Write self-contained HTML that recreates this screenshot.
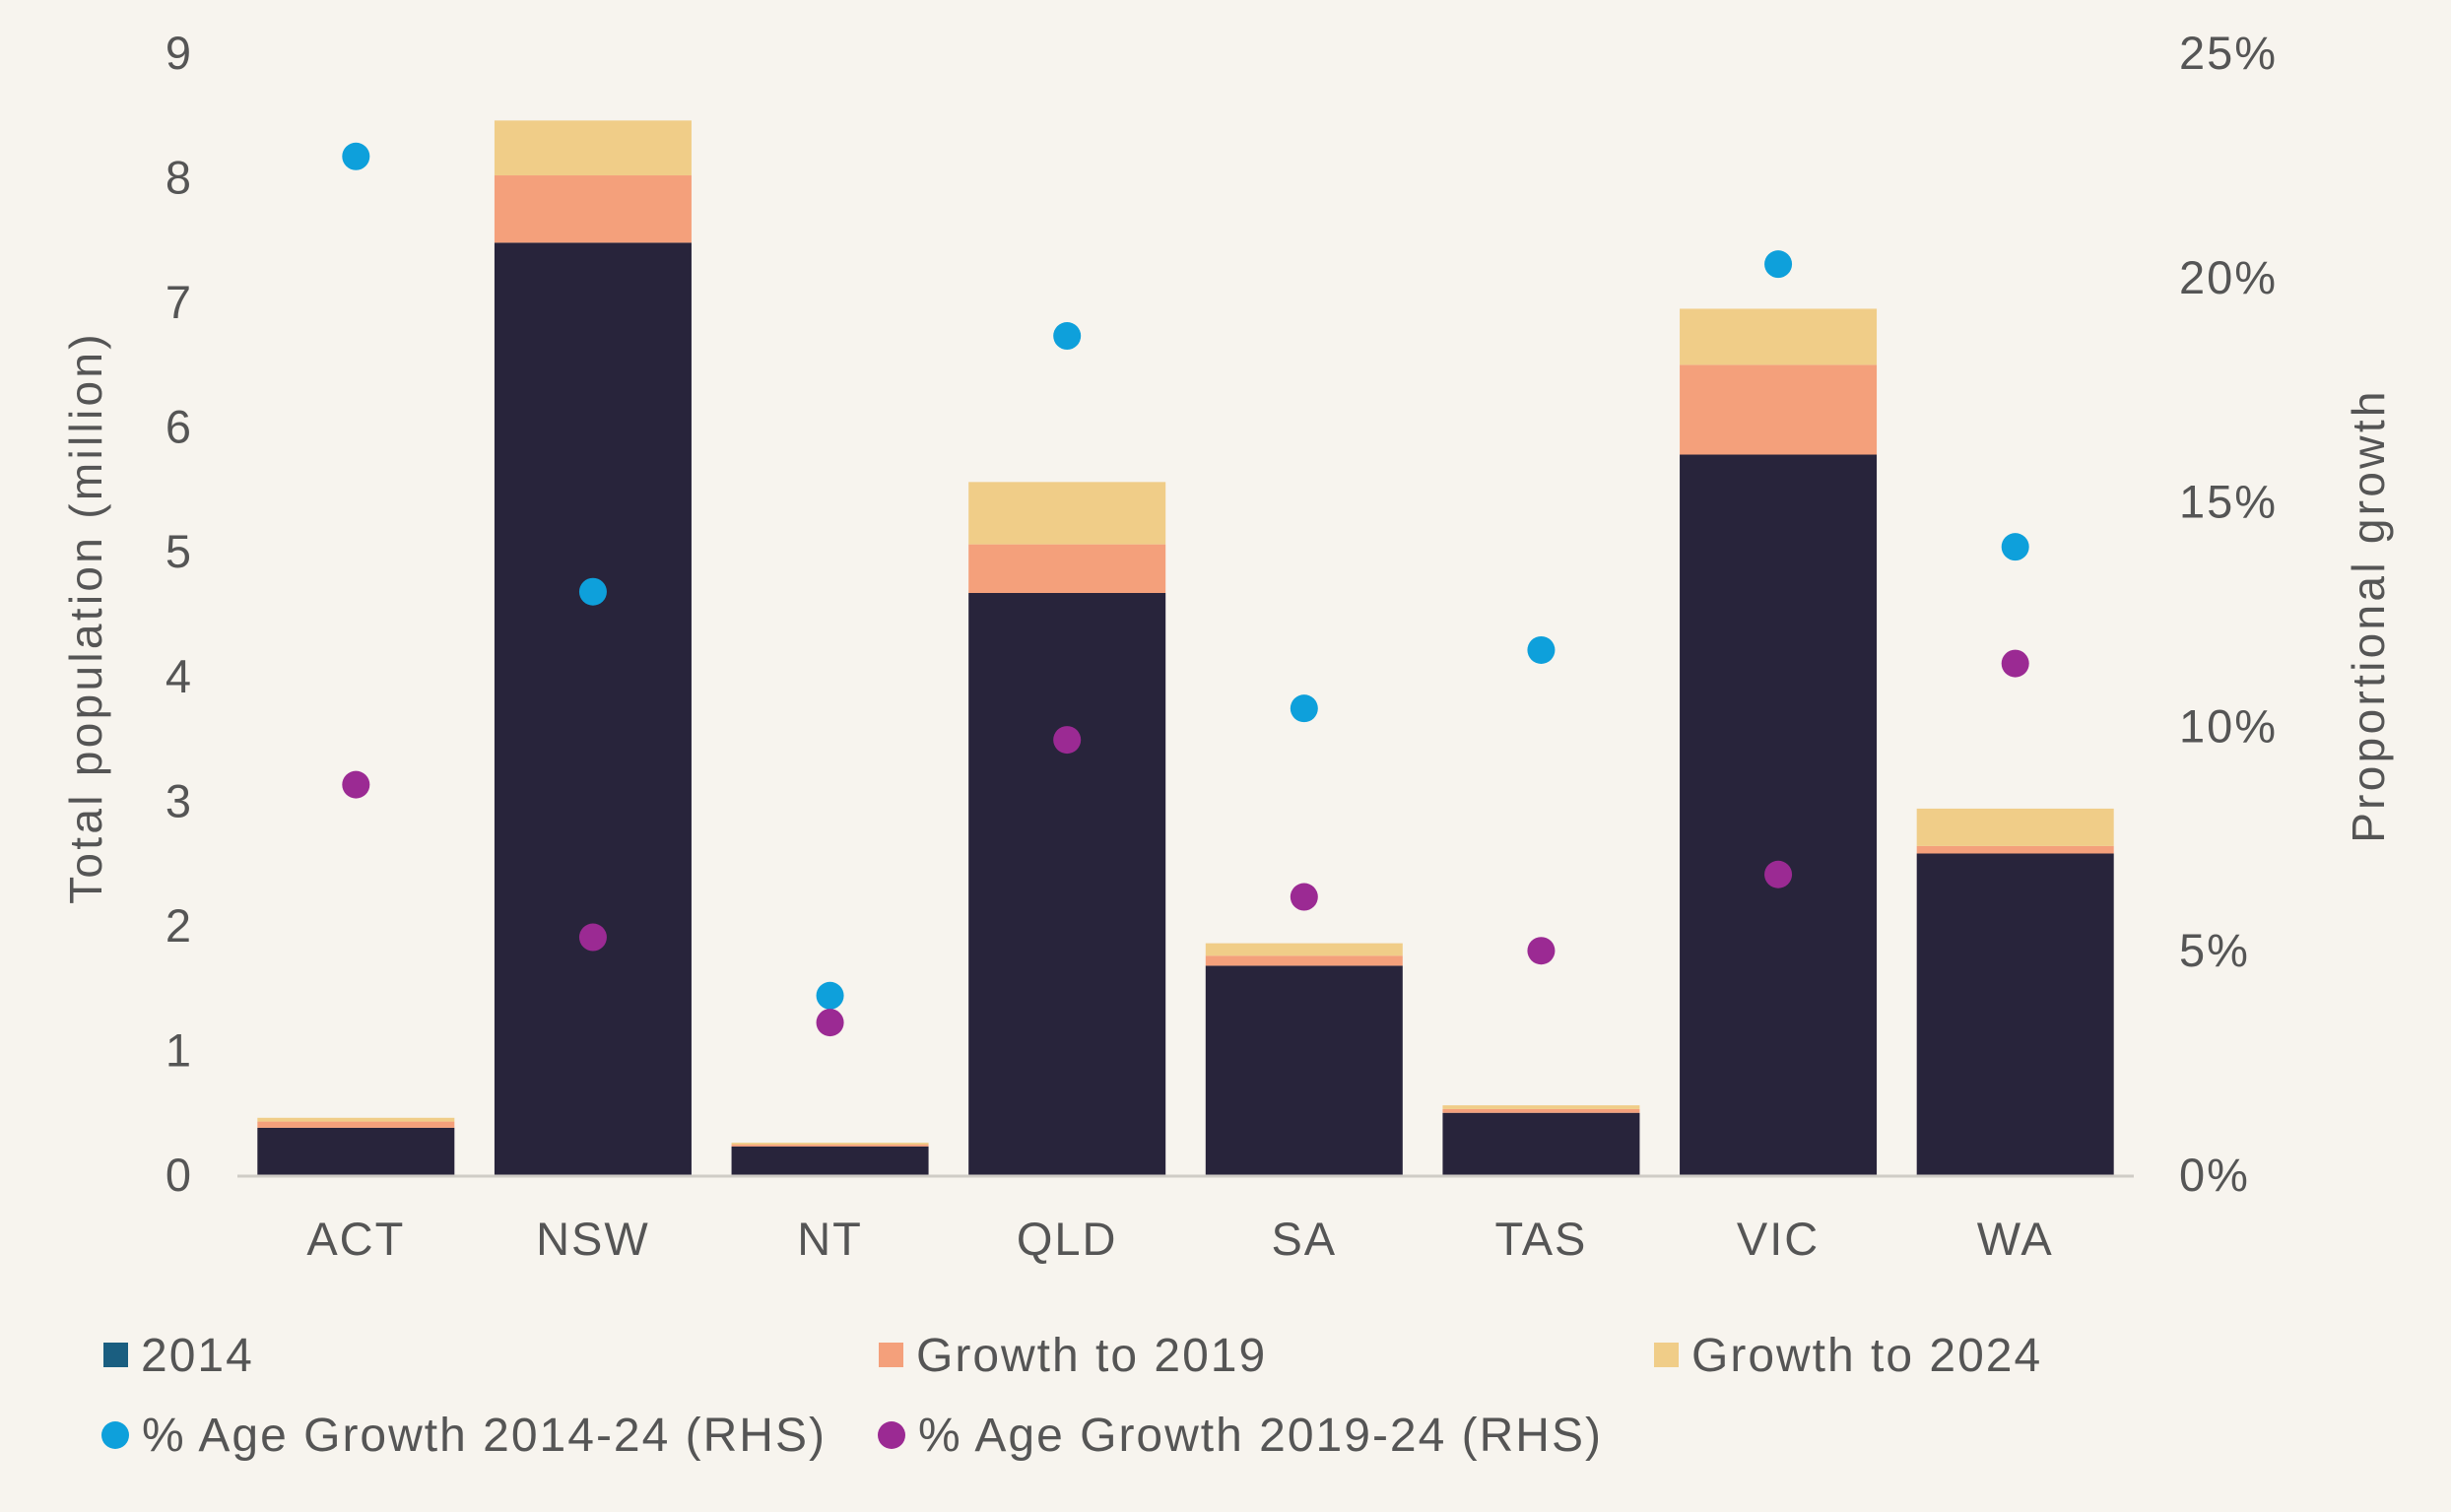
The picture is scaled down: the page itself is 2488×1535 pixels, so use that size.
<!DOCTYPE html>
<html><head><meta charset="utf-8"><style>
html,body{margin:0;padding:0;background:#f7f4ee;}
svg{display:block;font-family:"Liberation Sans",sans-serif;}
</style></head><body>
<svg id="chart" width="2488" height="1535" viewBox="0 0 2488 1535">
<rect width="2488" height="1535" fill="#f7f4ee"/>
<g id="g"></g>
</svg>
<script>
const categories = ["ACT","NSW","NT","QLD","SA","TAS","VIC","WA"];
const pop2014 = [0.38,7.48,0.23,4.67,1.68,0.50,5.78,2.58];
const growth2019 = [0.05,0.54,0.015,0.39,0.08,0.03,0.72,0.06];
const growth2024 = [0.03,0.44,0.015,0.50,0.10,0.03,0.45,0.30];
const pct1424 = [22.7,13.0,4.0,18.7,10.4,11.7,20.3,14.0];
const pct1924 = [8.7,5.3,3.4,9.7,6.2,5.0,6.7,11.4];
const leftTicks = [0,1,2,3,4,5,6,7,8,9];
const rightTicks = [0,5,10,15,20,25];

const NS="http://www.w3.org/2000/svg";
const g=document.getElementById('g');
const x0=241,x1=2166,yBase=1193,yTop=54;
const band=(x1-x0)/categories.length, barW=200;
const yL=v=>yBase-(v/9)*(yBase-yTop);
const yR=v=>yBase-(v/25)*(yBase-yTop);
const xC=i=>x0+band*(i+0.5);
function el(t,a,txt){const e=document.createElementNS(NS,t);for(const k in a)e.setAttribute(k,a[k]);if(txt!==undefined)e.textContent=txt;g.appendChild(e);return e;}

leftTicks.forEach(v=>{const e=el('text',{x:195,y:yL(v)+16,'text-anchor':'end','font-size':47,fill:'#555','letter-spacing':1},v);

});
rightTicks.forEach(v=>{const e=el('text',{x:2212,y:yR(v)+16,'font-size':47,fill:'#555','letter-spacing':2},v+'%');

});

categories.forEach((c,i)=>{
  const cx=xC(i),bx=cx-barW/2;
  const a=pop2014[i],b=a+growth2019[i],t=b+growth2024[i];
  let r=el('rect',{x:bx,y:yL(a),width:barW,height:yL(0)-yL(a),fill:'#28243b'});
  
  
  r=el('rect',{x:bx,y:yL(b),width:barW,height:yL(a)-yL(b),fill:'#f4a07b'});
  
  
  r=el('rect',{x:bx,y:yL(t),width:barW,height:yL(b)-yL(t),fill:'#f0cd88'});
  
  
  const lab=el('text',{x:cx,y:1274,'text-anchor':'middle','font-size':47,fill:'#555','letter-spacing':2},c);
  
  
});
const ax=el('line',{x1:x0,x2:x1,y1:yBase+1,y2:yBase+1,stroke:'#cfccc6','stroke-width':3});


categories.forEach((c,i)=>{
  let d=el('circle',{cx:xC(i),cy:yR(pct1424[i]),r:14,fill:'#0ea0db'});
  
  
  d=el('circle',{cx:xC(i),cy:yR(pct1924[i]),r:14,fill:'#9b2a93'});
  
  
});
let t=el('text',{x:0,y:0,transform:'translate(103,627) rotate(-90)','text-anchor':'middle','font-size':46,fill:'#555','letter-spacing':3.3},'Total population (million)');


t=el('text',{x:0,y:0,transform:'translate(2420,625) rotate(-90)','text-anchor':'middle','font-size':46,fill:'#555','letter-spacing':3.3},'Proportional growth');



function legendSq(x,y,col,txt,name){
  const r=el('rect',{x:x,y:y-13,width:25,height:25,fill:col});
  
  
  const e=el('text',{x:x+38,y:y+16,'font-size':48,fill:'#555','letter-spacing':2},txt);
  
  
}
function legendDot(x,y,col,txt,name){
  const r=el('circle',{cx:x,cy:y,r:14,fill:col});
  
  
  const e=el('text',{x:x+27,y:y+16,'font-size':48,fill:'#555','letter-spacing':2},txt);
  
  
}
legendSq(105,1376,'#1a5e80','2014','legend-2014');
legendSq(892,1376,'#f4a07b','Growth to 2019','legend-growth-2019');
legendSq(1679,1376,'#f0cd88','Growth to 2024','legend-growth-2024');
legendDot(117,1457,'#0ea0db','% Age Growth 2014-24 (RHS)','legend-pct-2014-24');
legendDot(905,1457,'#9b2a93','% Age Growth 2019-24 (RHS)','legend-pct-2019-24');
</script>
</body></html>
